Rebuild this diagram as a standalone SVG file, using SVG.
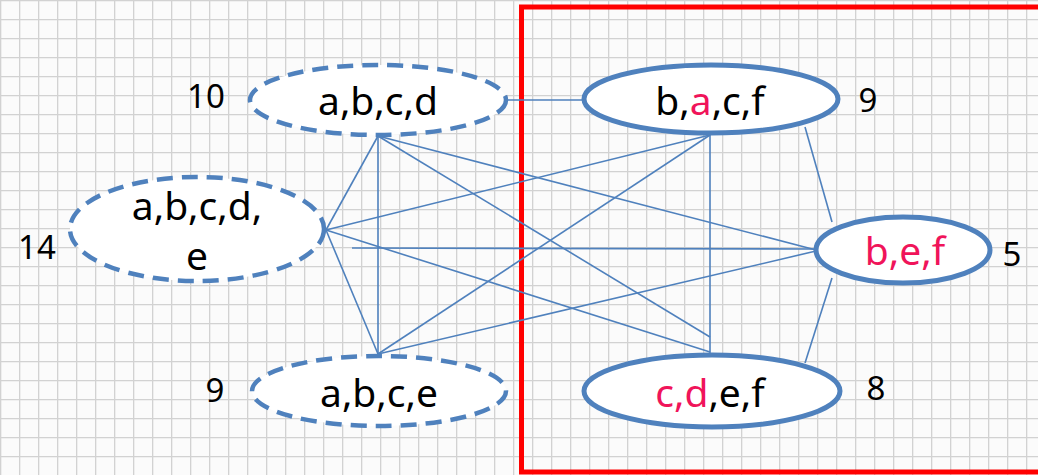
<svg xmlns="http://www.w3.org/2000/svg" width="1038" height="475" viewBox="0 0 1038 475">
<defs>
<pattern id="grid" width="19" height="19" patternUnits="userSpaceOnUse">
<rect width="19" height="19" fill="#fbfbfb"/>
<path d="M0 0.5H19M0.5 0V19" stroke="#d2d2d2" stroke-width="1.6" fill="none"/>
</pattern>
<style>
.edge{stroke:#4F81BD;stroke-width:1.6;fill:none}
.dash{fill:#fff;stroke:#4F81BD;stroke-width:4.5;stroke-dasharray:16 9}
.solid{fill:#fff;stroke:#4F81BD;stroke-width:5}
.lbl{font-family:"Noto Sans","Open Sans",sans-serif;font-size:39px;fill:#000;text-anchor:middle}
.num{font-family:"Noto Sans","Open Sans",sans-serif;font-size:33px;fill:#000;text-anchor:middle}
.hl{fill:#F0145A}
</style>
</defs>
<rect width="1038" height="475" fill="url(#grid)"/>
<rect x="521.5" y="7" width="600" height="465" fill="none" stroke="#FF0000" stroke-width="5"/>
<g id="connectors">
<line class="edge" x1="508" y1="100" x2="583" y2="100"/>
<line class="edge" x1="378" y1="136" x2="326" y2="230"/>
<line class="edge" x1="378" y1="136" x2="378" y2="354"/>
<line class="edge" x1="378" y1="136" x2="816" y2="250"/>
<line class="edge" x1="378" y1="136" x2="710" y2="337"/>
<line class="edge" x1="326" y1="230" x2="710" y2="135"/>
<line class="edge" x1="326" y1="230" x2="710" y2="352"/>
<line class="edge" x1="326" y1="230" x2="378" y2="354"/>
<line class="edge" x1="352" y1="248" x2="816" y2="249"/>
<line class="edge" x1="378" y1="354" x2="710" y2="135"/>
<line class="edge" x1="378" y1="354" x2="816" y2="251"/>
<line class="edge" x1="710" y1="135" x2="710" y2="353"/>
<line class="edge" x1="805" y1="127" x2="832" y2="222"/>
<line class="edge" x1="832" y1="278" x2="805" y2="363"/>
</g>
<g id="node-abcd">
<ellipse class="dash" cx="378" cy="100" rx="128" ry="35"/>
<text class="lbl" x="378" y="115">a,b,c,d</text>
<text class="num" x="206" y="108">10</text>
</g>
<g id="node-abcde">
<ellipse class="dash" cx="197" cy="229" rx="127" ry="52"/>
<text class="lbl" x="197" y="220">a,b,c,d,</text>
<text class="lbl" x="197" y="270">e</text>
<text class="num" x="37" y="259">14</text>
</g>
<g id="node-abce">
<ellipse class="dash" cx="379" cy="391" rx="127" ry="35"/>
<text class="lbl" x="379" y="407">a,b,c,e</text>
<text class="num" x="215" y="402">9</text>
</g>
<g id="node-bacf">
<ellipse class="solid" cx="711" cy="99" rx="127" ry="34"/>
<text class="lbl" x="710" y="115">b,<tspan class="hl">a</tspan>,c,f</text>
<text class="num" x="868" y="112">9</text>
</g>
<g id="node-bef">
<ellipse class="solid" cx="903" cy="250" rx="87" ry="33"/>
<text class="lbl hl" x="905" y="265">b,e,f</text>
<text class="num" x="1012" y="266">5</text>
</g>
<g id="node-cdef">
<ellipse class="solid" cx="712" cy="391" rx="128" ry="36"/>
<text class="lbl" x="710" y="407"><tspan class="hl">c,d</tspan>,e,f</text>
<text class="num" x="876" y="400">8</text>
</g>
</svg>
